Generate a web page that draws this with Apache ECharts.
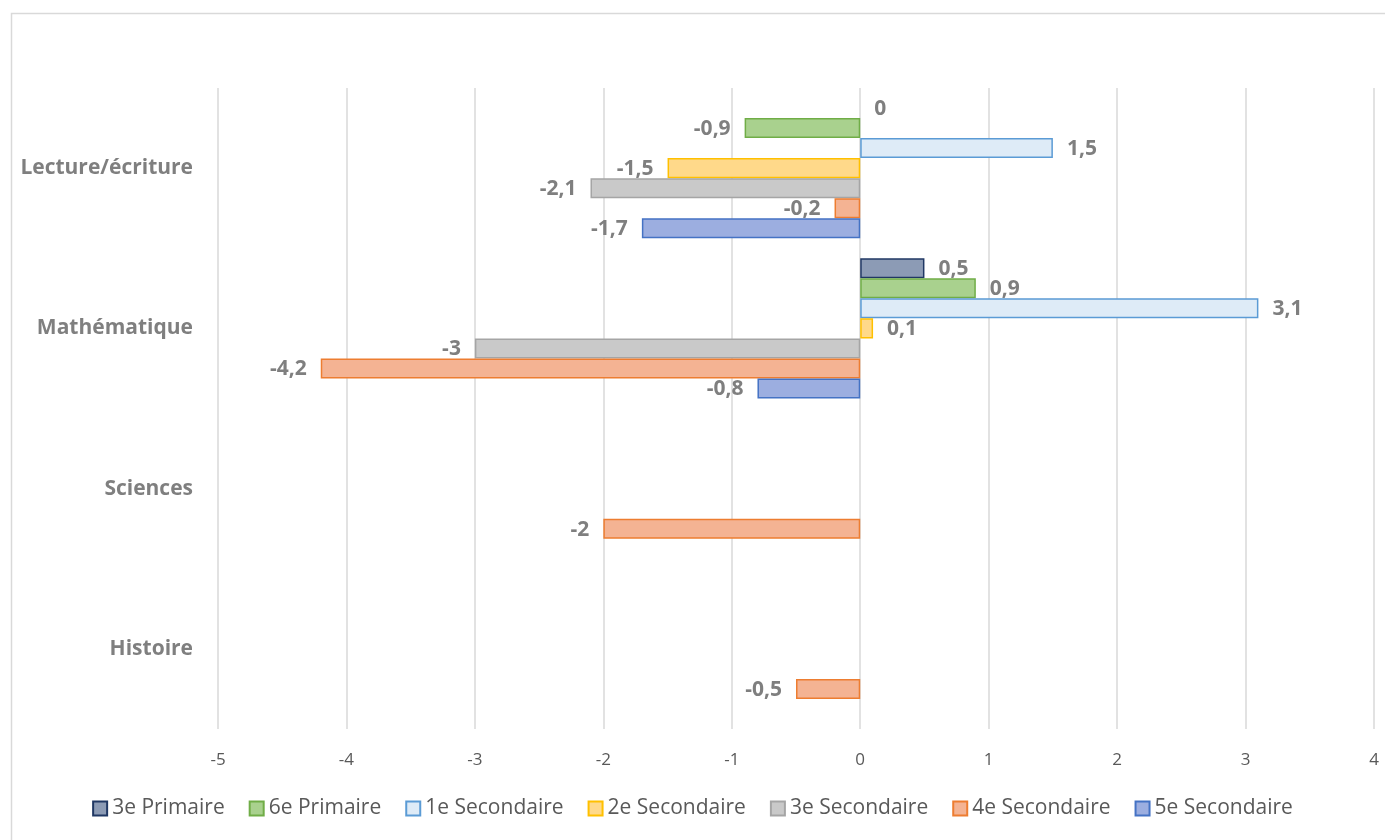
<!DOCTYPE html>
<html>
<head>
<meta charset="utf-8">
<script src="https://cdn.jsdelivr.net/npm/echarts@6/dist/echarts.min.js"></script>
<style>
  html, body { margin: 0; padding: 0; background: #fff; }
  #chart { width: 1385px; height: 840px; }
</style>
</head>
<body>
<div id="chart"></div>
<script>
// données
const categories = ['Lecture/écriture', 'Mathématique', 'Sciences', 'Histoire'];
const seriesNames = ['3e Primaire', '6e Primaire', '1e Secondaire', '2e Secondaire', '3e Secondaire', '4e Secondaire', '5e Secondaire'];
const primaire3 = [0, 0.5, null, null];
const primaire6 = [-0.9, 0.9, null, null];
const secondaire1 = [1.5, 3.1, null, null];
const secondaire2 = [-1.5, 0.1, null, null];
const secondaire3 = [-2.1, -3, null, null];
const secondaire4 = [-0.2, -4.2, -2, -0.5];
const secondaire5 = [-1.7, -0.8, null, null];
const xTicks = [-5, -4, -3, -2, -1, 0, 1, 2, 3, 4];

const values = [primaire3, primaire6, secondaire1, secondaire2, secondaire3, secondaire4, secondaire5];

// fill / border (style Excel)
const fills = ['#8C9BB5', '#A9D18E', '#DEEBF7', '#FFD98A', '#C9C9C9', '#F4B393', '#9CAEE0'];
const borders = ['#203864', '#70AD47', '#5B9BD5', '#FFC000', '#A5A5A5', '#ED7D31', '#4472C4'];

const chart = echarts.init(document.getElementById('chart'));

const fmt = v => String(v).replace('.', ',');

const series = seriesNames.map((name, i) => ({
  name: name,
  type: 'bar',
  barGap: '0%',
  barCategoryGap: '12.5%',
  data: values[i].map(v => v === null ? null : {
    value: v,
    // une barre à 0 n'a pas de contour visible
    itemStyle: v === 0 ? { borderWidth: 0 } : undefined,
    label: { position: v < 0 ? 'left' : 'right' }
  }),
  itemStyle: {
    color: fills[i],
    borderColor: borders[i],
    borderWidth: 1.5
  },
  label: {
    show: true,
    distance: 14,
    offset: [0, 1],
    color: '#7F7F7F',
    fontWeight: 'bold',
    fontSize: 21,
    fontFamily: 'Open Sans',
    formatter: p => fmt(p.value)
  }
}));

const option = {
  animation: false,
  backgroundColor: '#fff',
  graphic: [{
    type: 'rect',
    left: 9,
    top: 11,
    shape: { width: 1385, height: 840 },
    style: { fill: 'none', stroke: '#D9D9D9', lineWidth: 1.5 },
    silent: true,
    z: -1
  }],
  grid: {
    left: 218,
    right: 11,
    top: 88,
    bottom: 111,
    containLabel: false
  },
  legend: {
    bottom: 16,
    left: 'center',
    icon: 'rect',
    itemWidth: 14,
    itemHeight: 14,
    itemGap: 24,
    textStyle: { color: '#595959', fontSize: 21, fontFamily: 'Open Sans' },
    data: seriesNames
  },
  xAxis: {
    type: 'value',
    min: xTicks[0],
    max: xTicks[xTicks.length - 1],
    interval: 1,
    axisLine: { show: false },
    axisTick: { show: false },
    splitLine: { lineStyle: { color: '#D9D9D9', width: 1.5 } },
    axisLabel: {
      color: '#595959',
      fontSize: 17,
      fontFamily: 'Open Sans',
      margin: 23,
      formatter: v => fmt(v)
    }
  },
  yAxis: {
    type: 'category',
    inverse: true,
    data: categories,
    axisLine: { show: false },
    axisTick: { show: false },
    axisLabel: {
      color: '#7F7F7F',
      fontWeight: 'bold',
      fontSize: 21,
      fontFamily: 'Open Sans',
      margin: 25
    }
  },
  series: series
};

chart.setOption(option);
</script>
</body>
</html>
